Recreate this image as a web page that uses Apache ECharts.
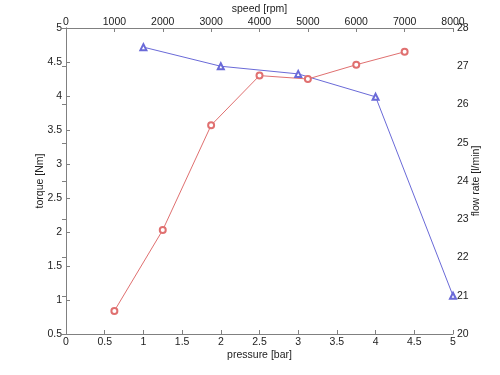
<!DOCTYPE html>
<html><head><meta charset="utf-8">
<script src="https://cdn.jsdelivr.net/npm/echarts@6/dist/echarts.min.js"></script>
<style>html,body{margin:0;padding:0;background:#fff}#c{width:500px;height:375px}</style>
</head><body><div id="c"></div>
<script>
// blue series: pressure [bar] vs flow rate [l/min]
const pressure = [1, 2, 3, 4, 5];
const flowRate = [27.5, 27.0, 26.8, 26.2, 21.0];
// red series: speed [rpm] vs torque [Nm]
const speed = [1000, 2000, 3000, 4000, 5000, 6000, 7000];
const torque = [0.84, 2.03, 3.57, 4.30, 4.25, 4.46, 4.65];

const axisLine = {show: true, lineStyle: {color: '#808080', width: 1}};
const axisTick = {show: true, inside: true, length: 4, lineStyle: {color: '#808080'}};
const lab = {color: '#222', fontFamily: 'Liberation Sans', fontSize: 10.5, formatter: v => String(v)};
const nameStyle = {color: '#222', fontFamily: 'Liberation Sans', fontSize: 10.5};

const chart = echarts.init(document.getElementById('c'));
chart.setOption({
  animation: false,
  backgroundColor: '#fff',
  grid: {left: 66, right: 47, top: 28, bottom: 41, containLabel: false, outerBoundsMode: 'none'},
  xAxis: [
    {type: 'value', position: 'bottom', min: 0, max: 5, interval: 0.5,
     name: 'pressure [bar]', nameLocation: 'middle', nameGap: 16, nameMoveOverlap: false, nameTextStyle: nameStyle,
     axisLine, axisTick, axisLabel: Object.assign({margin: 3}, lab), splitLine: {show: false}},
    {type: 'value', position: 'top', min: 0, max: 8000, interval: 1000,
     name: 'speed [rpm]', nameLocation: 'middle', nameGap: 13, nameMoveOverlap: false, nameTextStyle: nameStyle,
     axisLine, axisTick, axisLabel: Object.assign({margin: 0}, lab), splitLine: {show: false}}
  ],
  yAxis: [
    {type: 'value', position: 'left', min: 0.5, max: 5, interval: 0.5,
     name: 'torque [Nm]', nameLocation: 'middle', nameGap: 20, nameRotate: 90, nameMoveOverlap: false, nameTextStyle: nameStyle,
     axisLine, axisTick, axisLabel: Object.assign({margin: 4}, lab), splitLine: {show: false}},
    {type: 'value', position: 'right', min: 20, max: 28, interval: 1,
     name: 'flow rate [l/min]', nameLocation: 'middle', nameGap: 18, nameRotate: 90, nameMoveOverlap: false, nameTextStyle: nameStyle,
     axisLine, axisTick, axisLabel: Object.assign({margin: 4}, lab), splitLine: {show: false}}
  ],
  series: [
    {type: 'line', xAxisIndex: 0, yAxisIndex: 1,
     data: pressure.map((p, i) => [p, flowRate[i]]),
     symbol: 'emptyTriangle', symbolSize: 6, clip: false,
     lineStyle: {color: '#6a6ad8', width: 1}, itemStyle: {color: '#6a6ad8', borderWidth: 0.7}},
    {type: 'line', xAxisIndex: 1, yAxisIndex: 0,
     data: speed.map((s, i) => [s, torque[i]]),
     symbol: 'emptyCircle', symbolSize: 6, clip: false,
     lineStyle: {color: '#e07070', width: 1}, itemStyle: {color: '#e07070', borderWidth: 0.7}}
  ]
});
</script></body></html>
